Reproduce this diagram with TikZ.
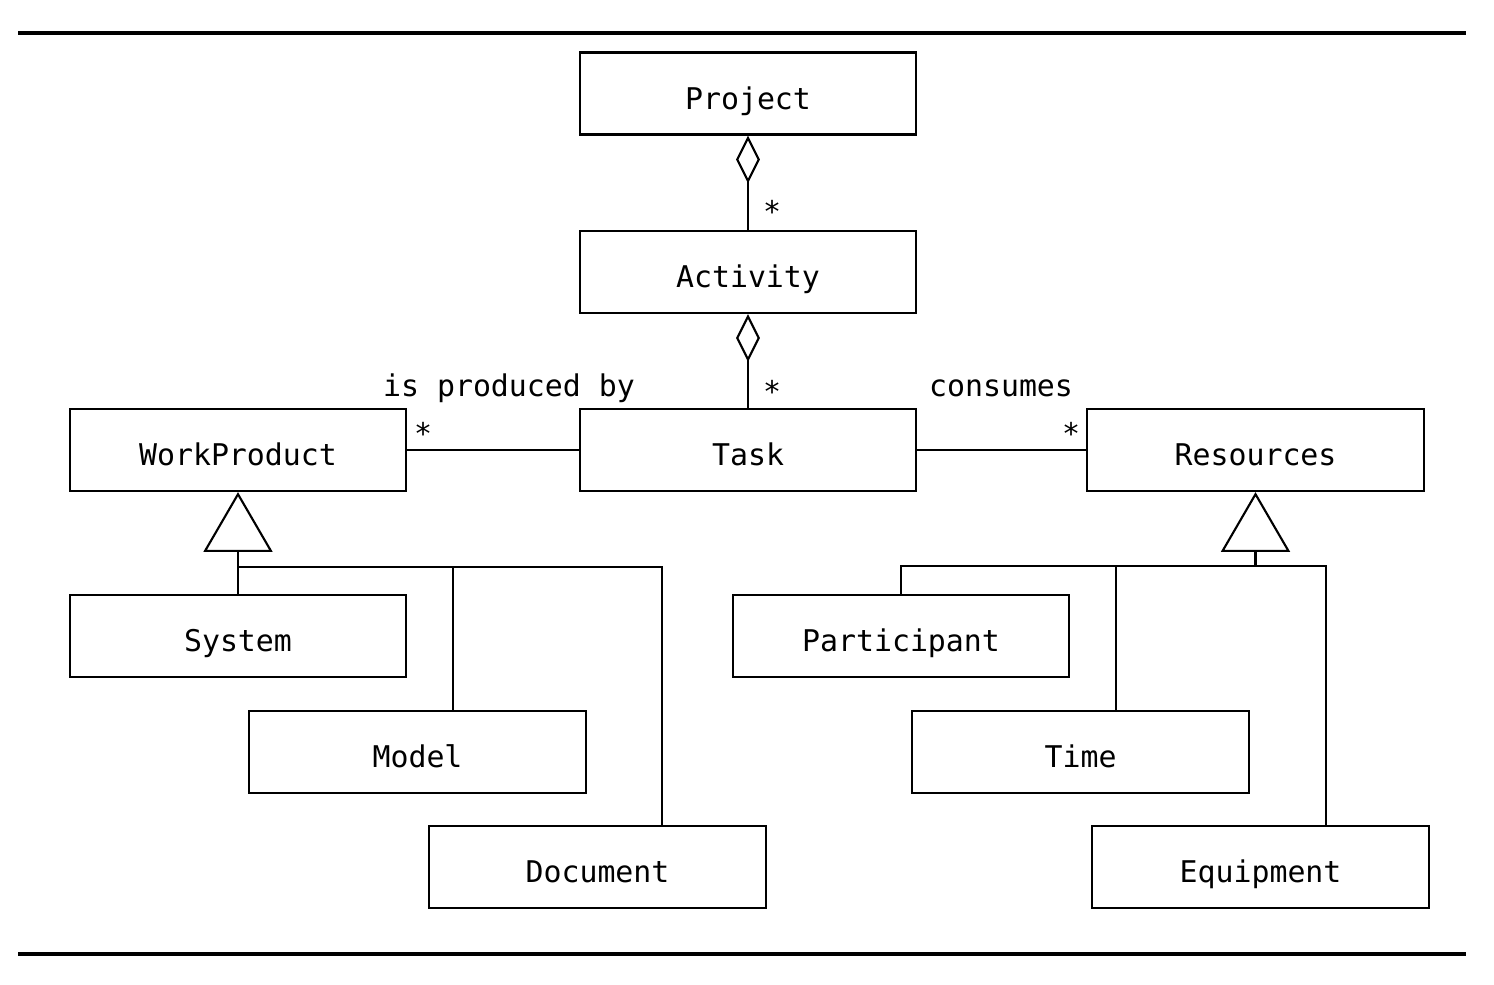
\documentclass[tikz,border=0pt]{standalone}
\usepackage{fontspec}
\newfontfamily\umlfont{DejaVu Sans Mono}
\usetikzlibrary{arrows.meta}
\tikzset{
  cls/.style={draw, line width=0.6pt, minimum width=3.36cm, minimum height=0.82cm, inner sep=0pt, text height=0.31cm, text depth=0pt},
  aggr/.style={{Diamond[open,length=13.6pt,width=6.8pt]}-, line width=0.6pt},
  gen/.style={-{Triangle[open,length=17pt,width=19.6pt]}, line width=0.6pt},
  lnk/.style={line width=0.6pt},
  mult/.style={inner sep=0pt}
}
\begin{document}
\begin{tikzpicture}[x=0.01cm, y=-0.01cm, font=\umlfont\fontsize{8.5}{10}\selectfont]
\useasboundingbox (0,0) rectangle (1494,984);
% rules
\draw[line width=1pt] (18,33) -- (1466,33);
\draw[line width=1pt] (18,954) -- (1466,954);
% classes
\node[cls] (project) at (748,93.5) {Project};
\node[cls] (activity) at (748,272) {Activity};
\node[cls] (task) at (748,450) {Task};
\node[cls] (workproduct) at (238,450) {WorkProduct};
\node[cls] (resources) at (1255.5,450) {Resources};
\node[cls] (system) at (238,636) {System};
\node[cls] (model) at (417.5,752) {Model};
\node[cls] (document) at (597.5,867) {Document};
\node[cls] (participant) at (901,636) {Participant};
\node[cls] (time) at (1080.5,752) {Time};
\node[cls] (equipment) at (1260.5,867) {Equipment};
% aggregation
\draw[aggr] (project) -- (activity);
\draw[aggr] (activity) -- (task);
\node[mult] (m1) at (772,211) {*};
\node[mult] (m2) at (772,391) {*};
% associations
\draw[lnk] (workproduct) -- (task);
\draw[lnk] (task) -- (resources);
\node[mult] (m3) at (423,433) {*};
\node[mult] (m4) at (1071,433) {*};
\node (producedby) at (509,388) {is produced by};
\node (consumes) at (1001,388) {consumes};
% generalization: work products
\coordinate (wpbus) at (238,567);
\coordinate (wpmodel) at (453,567);
\coordinate (wpdoc) at (662,567);
\draw[gen] (wpbus) -- (workproduct);
\draw[lnk] (system) -- (wpbus) -- (wpdoc) -- (wpdoc |- document.north);
\draw[lnk] (wpmodel) -- (wpmodel |- model.north);
% generalization: resources
\coordinate (resbus) at (1255.5,566);
\coordinate (resp) at (901,566);
\coordinate (restime) at (1116,566);
\coordinate (resequip) at (1326,566);
\draw[gen] (resbus) -- (resources);
\draw[lnk] (participant) -- (resp) -- (resequip) -- (resequip |- equipment.north);
\draw[lnk] (restime) -- (restime |- time.north);
\end{tikzpicture}
\end{document}
